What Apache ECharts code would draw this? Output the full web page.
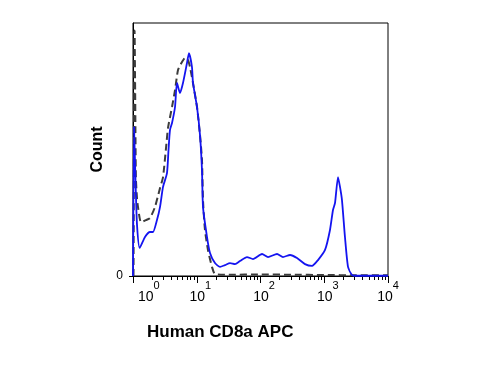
<!DOCTYPE html>
<html><head><meta charset="utf-8">
<script src="https://cdn.jsdelivr.net/npm/echarts@6/dist/echarts.min.js"></script>
<style>html,body{margin:0;padding:0;background:#fff}#c{width:500px;height:375px}</style>
</head><body><div id="c"></div>
<script>
// x values are in decades (log10 of intensity), y values are counts (% of max)
const sampleX = [0.000,0.016,0.039,0.063,0.105,0.188,0.267,0.314,0.376,0.424,0.471,0.533,0.557,0.580,0.612,0.659,0.690,0.737,0.784,0.847,0.878,0.925,0.941,1.004,1.051,1.082,1.098,1.161,1.208,1.286,1.365,1.443,1.522,1.600,1.678,1.788,1.882,2.024,2.118,2.259,2.353,2.463,2.573,2.698,2.808,2.902,3.012,3.090,3.137,3.169,3.216,3.247,3.278,3.325,3.373,3.435,3.482,4.000];
const sampleY = [0,58.9,37.9,20.2,11.1,15.4,17.4,17.4,22.1,27.3,35.2,40.7,49.8,57.7,60.5,66.8,76.3,72.3,76.3,84.2,88.1,82.6,76.3,66.8,55.7,41.9,27.3,15.4,9.1,5.1,3.6,4.3,5.1,4.7,5.9,7.5,6.7,8.7,7.5,8.7,7.5,8.3,7.1,4.7,4.0,6.3,10.3,18.2,26.1,28.9,39.1,35.2,30.0,15.4,3.6,0.4,0.1,0.1];
const controlX = [0.008,0.025,0.035,0.045,0.062,0.078,0.125,0.204,0.267,0.345,0.424,0.471,0.518,0.549,0.612,0.659,0.706,0.769,0.816,0.863,0.894,0.941,1.004,1.051,1.082,1.098,1.129,1.176,1.239,1.286,1.5,2.0,2.5,3.0,3.5,4.0];
const controlY = [0,97,70,39,31,27.3,21.3,22.1,22.9,27.3,34.8,39.1,50.6,58.5,66.8,73.5,81.4,84.6,86.2,85.4,82.6,76.3,66.8,55.7,45.8,30.0,18.2,10.3,3.6,0.8,0.5,0.6,0.5,0.4,0.3,0.3];
const decades = [0,1,2,3,4];
const minorMultipliers = [2,3,4,5,6,7,8,9];
const yTickValues = [0];
const xAxisTitle = 'Human CD8a APC';
const yAxisTitle = 'Count';

const minorTicks = [];
decades.slice(0, -1).forEach(d => minorMultipliers.forEach(m => minorTicks.push(d + Math.log10(m))));

const font = 'Liberation Sans, Arial, sans-serif';
const chart = echarts.init(document.getElementById('c'), null, {renderer: 'canvas'});
chart.setOption({
  animation: false,
  backgroundColor: '#fff',
  title: {text: xAxisTitle, left: 142, top: 319,
    textStyle: {fontFamily: font, fontSize: 17, fontWeight: 'bold', color: '#000'}},
  grid: {left: 133, right: 112, top: 23, bottom: 99, show: true, borderColor: '#000', borderWidth: 1},
  xAxis: [{
    type: 'value', min: 0, max: 4, position: 'bottom',
    axisLine: {show: true, onZero: false, lineStyle: {color: '#000', width: 1}},
    axisTick: {show: true, customValues: decades, length: 7, lineStyle: {color: '#000'}},
    splitLine: {show: false},
    axisLabel: {
      customValues: decades, margin: 4, color: '#000', fontFamily: font,
      alignMinLabel: 'left',
      formatter: v => (v === 0 ? '{q|}' : (v === 4 ? '' : '{p|}')) + '{b|10}{s|' + v + '}',
      rich: {
        b: {fontSize: 14, fontFamily: font, color: '#000', lineHeight: 24, verticalAlign: 'bottom'},
        s: {fontSize: 11, fontFamily: font, color: '#000', verticalAlign: 'top', lineHeight: 12},
        p: {width: 7},
        q: {width: 5}
      }
    }
  }, {
    type: 'value', min: 0, max: 4, gridIndex: 0, position: 'bottom',
    axisLine: {show: false, onZero: false},
    axisTick: {show: true, customValues: minorTicks, length: 4, lineStyle: {color: '#000'}},
    axisLabel: {show: false},
    splitLine: {show: false}
  }],
  yAxis: [{
    type: 'value', min: 0, max: 100, position: 'left',
    name: yAxisTitle, nameLocation: 'middle', nameGap: 25,
    nameTextStyle: {fontFamily: font, fontSize: 16, fontWeight: 'bold', color: '#000'},
    axisLine: {show: true, onZero: false, lineStyle: {color: '#000', width: 1}},
    axisTick: {show: true, customValues: yTickValues, length: 4, lineStyle: {color: '#000'}},
    axisLabel: {customValues: yTickValues, margin: 10, fontSize: 12, fontFamily: font, color: '#000'},
    splitLine: {show: false}
  }, {
    type: 'value', min: 0, max: 100, position: 'left',
    axisLine: {show: false, onZero: false},
    axisTick: {show: true, inside: true, customValues: yTickValues, length: 4, lineStyle: {color: '#000'}},
    axisLabel: {show: false},
    splitLine: {show: false}
  }],
  series: [{
    type: 'line', name: 'control', showSymbol: false, symbol: 'none', smooth: 0.2,
    data: controlX.map((x, i) => [x, controlY[i]]),
    lineStyle: {color: '#3c3c3c', width: 2, type: [7, 4]}, z: 2
  }, {
    type: 'line', name: 'sample', showSymbol: false, symbol: 'none', smooth: 0.2,
    data: sampleX.map((x, i) => [x, sampleY[i]]),
    lineStyle: {color: '#1414f0', width: 1.8}, z: 3
  }]
});
</script></body></html>
